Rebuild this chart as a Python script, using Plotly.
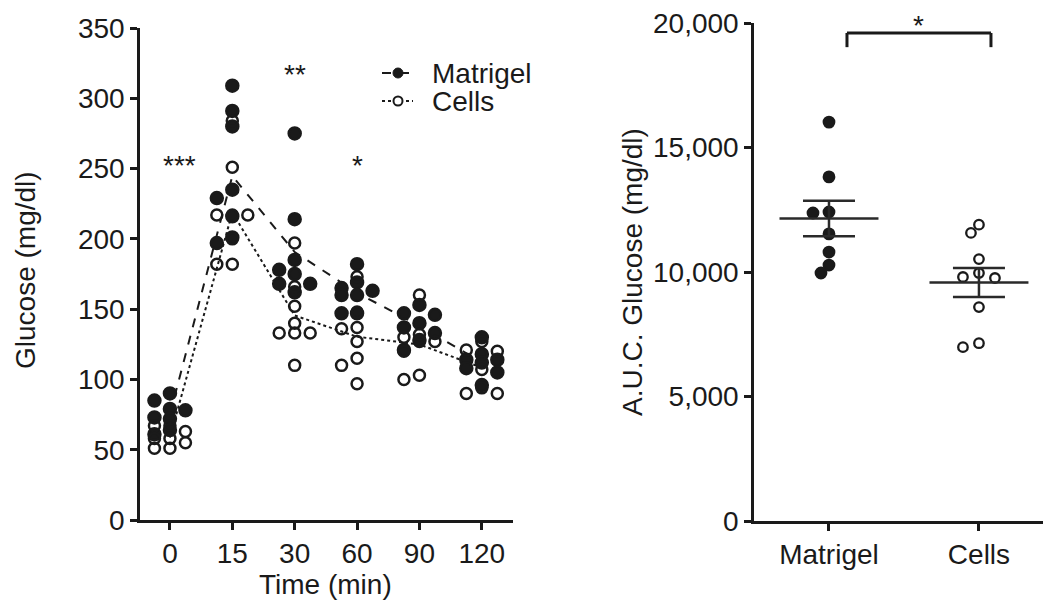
import numpy as np
import plotly.graph_objects as go

# ---------------- data ----------------
time_labels = ["0", "15", "30", "60", "90", "120"]

matrigel_glucose = [
    [90, 85, 79, 78, 73, 72, 64, 61],          # 0 min
    [309, 291, 280, 235, 229, 216, 201, 197],  # 15 min
    [275, 214, 185, 178, 175, 168, 168, 162],  # 30 min
    [182, 169, 165, 163, 160, 160, 147, 147],  # 60 min
    [153, 147, 146, 140, 137, 133, 128, 121],  # 90 min
    [130, 118, 114, 114, 112, 108, 105, 96],   # 120 min
]
cells_glucose = [
    [67, 67, 63, 58, 58, 55, 51, 51],
    [284, 251, 217, 217, 217, 200, 182, 182],
    [197, 166, 152, 140, 133, 133, 133, 110],
    [173, 148, 137, 136, 127, 115, 110, 97],
    [160, 132, 130, 127, 127, 120, 103, 100],
    [127, 121, 120, 118, 107, 94, 90, 90],
]
significance_labels = ["***", "**", "*"]
significance_times = [0, 2, 3]
significance_heights = [252, 317, 252]

auc_groups = ["Matrigel", "Cells"]
auc_matrigel = [16020, 13820, 12410, 12370, 11530, 10800, 10280, 9960]
auc_cells = [11900, 11570, 10520, 9960, 9800, 9760, 8590, 7140, 6980]

# ---------------- layout geometry ----------------
W, H = 1043, 604
FONT = "Liberation Sans, Arial, Helvetica, sans-serif"
INK = "#1a1a1a"
FS = 28

L_X0, L_X1 = 140, 513     # left plot px
L_Y0, L_Y1 = 520, 28      # bottom/top px
R_X0, R_X1 = 754, 1043
R_Y0, R_Y1 = 521, 23

L_XRANGE = [-0.48, 5.5]
L_YRANGE = [0, 350]
R_XRANGE = [-0.5, 1.427]
R_YRANGE = [0, 20000]


def px(xp):
    return xp / W


def py(yp):
    return 1 - yp / H


def swarm(values, ypx, xpx, step_px, diam_px, max_cols=1):
    """Column scatter: centre column first, then side columns; overlaps allowed when full."""
    vals = np.asarray(values, dtype=float)
    order = np.argsort(-vals, kind="stable")
    placed = []
    offs = np.zeros(len(vals))
    cands = [0.0]
    for k in range(1, max_cols + 1):
        cands += [-k * step_px, k * step_px]
    for i in order:
        y = vals[i] * ypx
        chosen, best, best_d = None, None, -1
        for c in cands:
            d = min([np.hypot(c - a, y - b) for a, b in placed] or [1e9])
            if d >= diam_px:
                chosen = c
                break
            if d > best_d:
                best, best_d = c, d
        if chosen is None:
            chosen = best
        placed.append((chosen, y))
        offs[i] = chosen / xpx
    return offs


l_ypx = (L_Y0 - L_Y1) / (L_YRANGE[1] - L_YRANGE[0])
l_xpx = (L_X1 - L_X0) / (L_XRANGE[1] - L_XRANGE[0])
r_ypx = (R_Y0 - R_Y1) / (R_YRANGE[1] - R_YRANGE[0])
r_xpx = (R_X1 - R_X0) / (R_XRANGE[1] - R_XRANGE[0])

fig = go.Figure()

# ---------------- left panel ----------------
series = [
    ("Matrigel", matrigel_glucose, "circle", "dash"),
    ("Cells", cells_glucose, "circle-open", "dot"),
]
for name, data, sym, dash in series:
    means = [float(np.mean(v)) for v in data]
    fig.add_trace(go.Scatter(
        x=list(range(len(data))), y=means, mode="lines",
        line=dict(color=INK, width=2, dash=dash),
        showlegend=False, xaxis="x", yaxis="y", hoverinfo="skip"))
for name, data, sym, dash in series:
    xs, ys = [], []
    for i, vals in enumerate(data):
        offs = swarm(vals, l_ypx, l_xpx, 15.5, 11, max_cols=1)
        xs += list(i + offs)
        ys += list(vals)
    fig.add_trace(go.Scatter(
        x=xs, y=ys, mode="markers",
        marker=dict(symbol=sym, size=12 if sym == "circle" else 11,
                    color=INK, line=dict(color=INK, width=2.5)),
        showlegend=False, xaxis="x", yaxis="y"))

# ---------------- right panel ----------------
for gi, (vals, sym) in enumerate([(auc_matrigel, "circle"), (auc_cells, "circle-open")]):
    offs = swarm(vals, r_ypx, r_xpx, 8, 11, max_cols=2)
    fig.add_trace(go.Scatter(
        x=list(gi + offs), y=vals, mode="markers",
        marker=dict(symbol=sym, size=10.5 if sym == "circle" else 9.5,
                    color=INK, line=dict(color=INK, width=2.3)),
        showlegend=False, xaxis="x2", yaxis="y2"))
    m = float(np.mean(vals))
    sem = float(np.std(vals, ddof=1) / np.sqrt(len(vals)))
    fig.add_trace(go.Scatter(
        x=[gi - 0.33, gi + 0.33], y=[m, m], mode="lines",
        line=dict(color="#2a2a2a", width=2.5),
        showlegend=False, xaxis="x2", yaxis="y2", hoverinfo="skip"))
    fig.add_trace(go.Scatter(
        x=[gi], y=[m], mode="markers", marker=dict(size=1, color="rgba(0,0,0,0)"),
        error_y=dict(type="data", array=[sem], color="#2a2a2a", thickness=2.5, width=26),
        showlegend=False, xaxis="x2", yaxis="y2", hoverinfo="skip"))

annotations = []
for lab, t, h in zip(significance_labels, significance_times, significance_heights):
    annotations.append(dict(
        x=t + (0.16 if t == 0 else 0), y=h,
        xref="x", yref="y", text=lab, showarrow=False,
        font=dict(family=FONT, size=FS, color=INK), xanchor="center", yanchor="middle"))

# bracket and star on right panel
bx0, bx1, by, bdrop = 0.12, 1.08, 19600, 19030
shapes = [
    dict(type="line", xref="x2", yref="y2", x0=bx0, x1=bx1, y0=by, y1=by,
         line=dict(color=INK, width=3)),
    dict(type="line", xref="x2", yref="y2", x0=bx0, x1=bx0, y0=by, y1=bdrop,
         line=dict(color=INK, width=3)),
    dict(type="line", xref="x2", yref="y2", x0=bx1, x1=bx1, y0=by, y1=bdrop,
         line=dict(color=INK, width=3)),
]
annotations.append(dict(x=(bx0 + bx1) / 2, y=py(25), xref="x2", yref="paper", text="*",
                        showarrow=False, xanchor="center", yanchor="middle",
                        font=dict(family=FONT, size=FS, color=INK)))

# manual legend (tight spacing as in the reference)
legend_rows = [("Matrigel", "dash", True, 73), ("Cells", "dot", False, 101)]
for name, dash, filled, yc in legend_rows:
    shapes.append(dict(type="line", xref="paper", yref="paper",
                       x0=px(382), x1=px(413), y0=py(yc), y1=py(yc),
                       line=dict(color=INK, width=2, dash=dash)))
    r = 5 if filled else 4.5
    shapes.append(dict(type="circle", xref="paper", yref="paper",
                       x0=px(398 - r), x1=px(398 + r), y0=py(yc + r), y1=py(yc - r),
                       fillcolor=INK if filled else "white",
                       line=dict(color=INK, width=2 if not filled else 1)))
    annotations.append(dict(x=px(430), y=py(yc), xref="paper", yref="paper", text=name,
                            showarrow=False, xanchor="left", yanchor="middle",
                            font=dict(family=FONT, size=FS, color=INK)))

# axis titles as annotations
annotations += [
    dict(x=px(26), y=py(270), xref="paper", yref="paper", text="Glucose (mg/dl)",
         textangle=-90, showarrow=False, xanchor="center", yanchor="middle",
         font=dict(family=FONT, size=FS, color=INK)),
    dict(x=px(325), y=py(584), xref="paper", yref="paper", text="Time (min)",
         showarrow=False, xanchor="center", yanchor="middle",
         font=dict(family=FONT, size=FS, color=INK)),
    dict(x=px(632), y=py(272), xref="paper", yref="paper", text="A.U.C. Glucose (mg/dl)",
         textangle=-90, showarrow=False, xanchor="center", yanchor="middle",
         font=dict(family=FONT, size=FS, color=INK)),
]

axis_common = dict(showline=True, linecolor=INK, linewidth=2.5, ticks="outside",
                   ticklen=7, tickwidth=2.5, tickcolor=INK, showgrid=False, zeroline=False,
                   tickfont=dict(family=FONT, size=FS, color=INK), fixedrange=True,
                   automargin=False)

fig.update_layout(
    width=W, height=H, autosize=False,
    margin=dict(l=0, r=0, t=0, b=0, pad=0),
    paper_bgcolor="white", plot_bgcolor="white",
    font=dict(family=FONT, size=FS, color=INK),
    showlegend=False,
    xaxis=dict(domain=[px(L_X0), px(L_X1)], range=L_XRANGE, anchor="y",
               tickvals=list(range(len(time_labels))), ticktext=time_labels, **axis_common),
    yaxis=dict(domain=[py(L_Y0), py(L_Y1)], range=L_YRANGE, anchor="x",
               tickvals=list(range(0, 351, 50)), **axis_common),
    xaxis2=dict(domain=[px(R_X0), px(R_X1)], range=R_XRANGE, anchor="y2",
                tickvals=[0, 1], ticktext=auc_groups, **axis_common),
    yaxis2=dict(domain=[py(R_Y0), py(R_Y1)], range=R_YRANGE, anchor="x2",
                tickvals=[0, 5000, 10000, 15000, 20000], tickformat=",", **axis_common),
    annotations=annotations, shapes=shapes,
)

fig.write_html("out.html")
